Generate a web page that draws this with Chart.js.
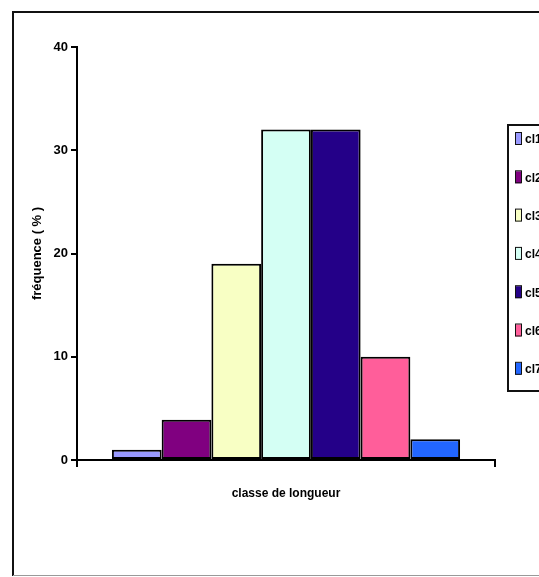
<!DOCTYPE html>
<html>
<head>
<meta charset="utf-8">
<script src="https://cdn.jsdelivr.net/npm/chart.js@4"></script>
<style>
  html, body { margin: 0; padding: 0; background: #fff; overflow: hidden; }
  canvas { display: block; }
</style>
</head>
<body>
<canvas id="histo" width="539" height="577"></canvas>
<script>
const classes = ['cl1', 'cl2', 'cl3', 'cl4', 'cl5', 'cl6', 'cl7'];
const frequences = [1, 3.9, 19, 32, 32, 10, 2];
const yTicks = [0, 10, 20, 30, 40];
const colors = ['#9999FF', '#800080', '#F8FFC4', '#D4FFF4', '#240088', '#FF5E9A', '#2266FF'];

const FONT = "'Liberation Sans', Arial, sans-serif";

// frame around the whole chart + legend box on the right
const frame = {
    id: 'frame',
    beforeDraw(chart) {
        const c = chart.ctx;
        c.save();
        c.fillStyle = '#fff';
        c.fillRect(0, 0, chart.width, chart.height);
        c.strokeStyle = '#111';
        c.lineWidth = 2;
        c.beginPath();
        c.moveTo(13, 576);
        c.lineTo(13, 12);
        c.lineTo(chart.width + 5, 12);
        c.stroke();
        c.strokeStyle = '#999';
        c.lineWidth = 1;
        c.beginPath();
        c.moveTo(13, 575.5);
        c.lineTo(chart.width, 575.5);
        c.stroke();
        c.restore();
    },
    afterDraw(chart) {
        const c = chart.ctx;
        c.save();
        c.strokeStyle = '#111';
        c.lineWidth = 2;
        c.strokeRect(508, 125, 80, 266);
        c.font = 'bold 12px ' + FONT;
        c.textBaseline = 'middle';
        chart.data.datasets.forEach((ds, i) => {
            const y = 139 + i * 38.3;
            c.fillStyle = ds.backgroundColor;
            c.fillRect(515, y - 6, 6, 12);
            c.lineWidth = 1;
            c.strokeRect(515.5, y - 6.5, 6, 12);
            c.fillStyle = '#000';
            c.fillText(ds.label, 525, y + 1);
        });
        c.restore();
    }
};

new Chart(document.getElementById('histo'), {
    type: 'bar',
    data: {
        labels: [''],
        datasets: classes.map((name, i) => ({
            label: name,
            data: [frequences[i]],
            backgroundColor: colors[i],
            borderColor: '#000',
            borderWidth: 2,
            borderSkipped: false,
            categoryPercentage: 0.833,
            barPercentage: 1.0
        }))
    },
    options: {
        responsive: false,
        animation: false,
        devicePixelRatio: 1,
        layout: {
            padding: { left: 20, right: 44, top: 47, bottom: 72 }
        },
        plugins: {
            legend: { display: false },
            tooltip: { enabled: false }
        },
        scales: {
            x: {
                offset: true,
                grid: {
                    display: true,
                    offset: true,
                    drawOnChartArea: false,
                    drawTicks: true,
                    tickLength: 7,
                    color: '#000',
                    lineWidth: 2
                },
                border: { color: '#000', width: 2 },
                ticks: { display: false },
                title: {
                    display: true,
                    text: 'classe de longueur',
                    color: '#000',
                    font: { family: FONT, size: 12, weight: 'bold' },
                    padding: { top: 0, bottom: 4 }
                },
                afterFit(scale) { scale.height = 45; }
            },
            y: {
                min: 0,
                max: 40,
                afterBuildTicks(scale) {
                    scale.ticks = yTicks.map(v => ({ value: v }));
                },
                grid: {
                    display: true,
                    drawOnChartArea: false,
                    drawTicks: true,
                    tickLength: 6,
                    color: '#000',
                    lineWidth: 2
                },
                border: { color: '#000', width: 2 },
                ticks: {
                    color: '#000',
                    padding: 3,
                    font: { family: FONT, size: 13, weight: 'bold' }
                },
                title: {
                    display: true,
                    text: 'fréquence ( % )',
                    color: '#000',
                    font: { family: FONT, size: 13, weight: 'bold' },
                    padding: { top: 10, bottom: 0 }
                },
                afterFit(scale) { scale.width = 57; }
            }
        }
    },
    plugins: [frame]
});
</script>
</body>
</html>
